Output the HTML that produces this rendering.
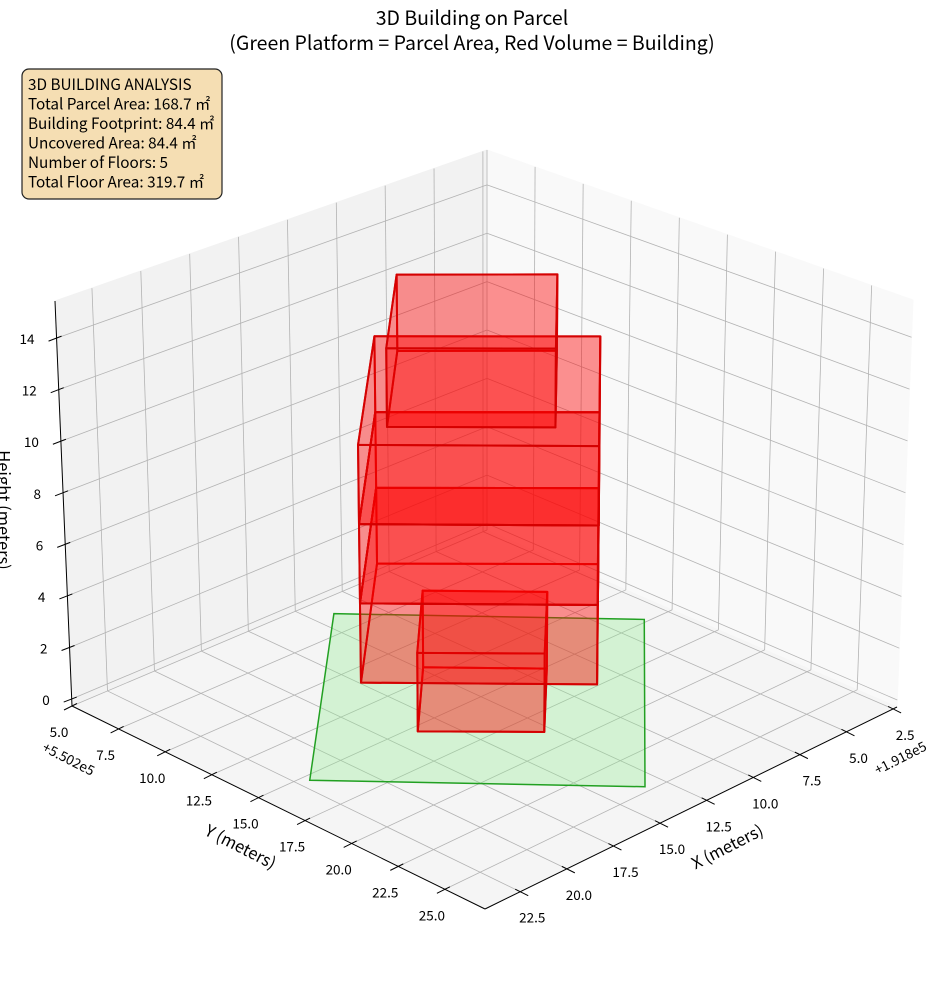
<!DOCTYPE html>
<html>
<head>
<meta charset="utf-8">
<style>
html,body{margin:0;padding:0;background:#fff;}
svg{display:block;}
text{font-family:"Noto Sans CJK JP","Liberation Sans",sans-serif;fill:#000;}
</style>
</head>
<body>
<svg id="chart" width="944" height="992" viewBox="0 0 944 992" xmlns="http://www.w3.org/2000/svg">
  <g id="panes"></g>
  <g id="grid"></g>
  <g id="axes"></g>
  <g id="parcel"></g>
  <g id="building"></g>
  <text x="472" y="25" font-size="19.5" text-anchor="middle">3D Building on Parcel</text>
  <text x="472" y="50" font-size="19.5" text-anchor="middle">(Green Platform = Parcel Area, Red Volume = Building)</text>
  <text x="240" y="848" font-size="16.5" text-anchor="middle" dominant-baseline="middle" transform="rotate(27 240 848)">Y (meters)</text>
  <text x="728" y="848" font-size="16.5" text-anchor="middle" dominant-baseline="middle" transform="rotate(-27 728 848)">X (meters)</text>
  <text x="-2" y="510" font-size="16.5" text-anchor="middle" transform="rotate(90 -2 510)">Height (meters)</text>
  <text x="68" y="760" font-size="13.5" text-anchor="middle" dominant-baseline="middle" transform="rotate(27 68 760)">+5.502e5</text>
  <text x="901" y="759" font-size="13.5" text-anchor="middle" dominant-baseline="middle" transform="rotate(-27 901 759)">+1.918e5</text>
  <g>
    <rect x="22" y="69" width="200" height="130" rx="7" ry="7" fill="#f5deb3" stroke="#222" stroke-width="1.2"/>
    <text x="28" y="90" font-size="15.3">3D BUILDING ANALYSIS</text>
    <text x="28" y="109.5" font-size="15.3">Total Parcel Area: 168.7 ㎡</text>
    <text x="28" y="129" font-size="15.3">Building Footprint: 84.4 ㎡</text>
    <text x="28" y="148.5" font-size="15.3">Uncovered Area: 84.4 ㎡</text>
    <text x="28" y="168" font-size="15.3">Number of Floors: 5</text>
    <text x="28" y="187.5" font-size="15.3">Total Floor Area: 319.7 ㎡</text>
  </g>
</svg>
<script>
// ---- data ----
const xLim = [2.29, 24.39];
const yLim = [5.0, 27.15];
const zLim = [-0.27, 15.44];
const xTicks = [2.5, 5.0, 7.5, 10.0, 12.5, 15.0, 17.5, 20.0, 22.5];
const yTicks = [5.0, 7.5, 10.0, 12.5, 15.0, 17.5, 20.0, 22.5, 25.0];
const zTicks = [0, 2, 4, 6, 8, 10, 12, 14];
const parcelX = [11.98, 4.0, 13.75, 22.39];
const parcelY = [6.56, 15.22, 25.08, 15.75];
const parcelZ = 0;
const floorBase = [0, 3, 6, 9, 12];
const floorHeight = [3, 3, 3, 3, 3];
const floorX = [
  [12.74, 9.5, 13.27, 16.63],
  [12.32, 6.47, 13.72, 19.91],
  [12.32, 6.47, 13.72, 19.91],
  [12.32, 6.47, 13.72, 19.91],
  [12.7, 8.54, 13.63, 17.98]
];
const floorY = [
  [12.13, 15.52, 19.18, 15.76],
  [9.27, 15.17, 22.43, 16.06],
  [9.27, 15.17, 22.43, 16.06],
  [9.27, 15.17, 22.43, 16.06],
  [10.85, 14.99, 20.04, 15.63]
];

// ---- projection (bilinear floor + perspective heights) ----
function norm(v, lim){ return (v - lim[0]) / (lim[1] - lim[0]); }
function proj(x, y, z){
  const a = norm(x, xLim), b = norm(y, yLim), c = norm(z, zLim);
  const px = 487 - 415*a + 410*b + 3*a*b;
  const py = 530 + 176*a + 177*b + 26*a*b;
  const H = 380*(1-a)*(1-b) + 405*a*(1-b) + 407*(1-a)*b + 436*a*b;
  const dx = -17*a*(1-b) + 16*(1-a)*b;
  return [px + c*dx, py - c*H];
}
function depth(x, y, z){
  const a = norm(x, xLim), b = norm(y, yLim), c = norm(z, zLim);
  return 0.866*0.707*(4*a + 4*b) + 0.5*3*c;
}
const NS = 'http://www.w3.org/2000/svg';
function mk(tag, attrs, parent){
  const e = document.createElementNS(NS, tag);
  for (const k in attrs) e.setAttribute(k, attrs[k]);
  parent.appendChild(e);
  return e;
}
function pts(list){ return list.map(p => p[0].toFixed(2) + ',' + p[1].toFixed(2)).join(' '); }

const panes = document.getElementById('panes');
const grid = document.getElementById('grid');
const axes = document.getElementById('axes');
const [x0, x1] = xLim, [y0, y1] = yLim, [z0, z1] = zLim;

let el;
el = mk('polygon', {points: pts([proj(x0,y0,z0), proj(x1,y0,z0), proj(x1,y0,z1), proj(x0,y0,z1)]), fill: '#f2f2f2', stroke: '#f2f2f2'}, panes);


el = mk('polygon', {points: pts([proj(x0,y0,z0), proj(x0,y1,z0), proj(x0,y1,z1), proj(x0,y0,z1)]), fill: '#f9f9f9', stroke: '#f9f9f9'}, panes);


el = mk('polygon', {points: pts([proj(x0,y0,z0), proj(x1,y0,z0), proj(x1,y1,z0), proj(x0,y1,z0)]), fill: '#f5f5f5', stroke: '#f5f5f5'}, panes);



function gl(p, q, name){
  const l = mk('line', {x1: p[0], y1: p[1], x2: q[0], y2: q[1], stroke: '#b3b3b3', 'stroke-width': 0.8}, grid);
  
  
}
xTicks.forEach(t => {
  gl(proj(t,y0,z0), proj(t,y1,z0), 'x-gridline-floor');
  gl(proj(t,y0,z0), proj(t,y0,z1), 'x-gridline-wall');
});
yTicks.forEach(t => {
  gl(proj(x1,t,z0), proj(x0,t,z0), 'y-gridline-floor');
  gl(proj(x0,t,z0), proj(x0,t,z1), 'y-gridline-wall');
});
zTicks.forEach(t => {
  gl(proj(x1,y0,t), proj(x0,y0,t), 'z-gridline-left-wall');
  gl(proj(x0,y0,t), proj(x0,y1,t), 'z-gridline-right-wall');
});

function axLine(p, q, name){
  const l = mk('line', {x1: p[0], y1: p[1], x2: q[0], y2: q[1], stroke: '#000', 'stroke-width': 1}, axes);
  
  
}
axLine(proj(x1,y0,z0), proj(x1,y0,z1), 'z-axis-line');
axLine(proj(x1,y0,z0), proj(x1,y1,z0), 'y-axis-line');
axLine(proj(x1,y1,z0), proj(x0,y1,z0), 'x-axis-line');

function tickLabel(x, y, txt, anchor, name){
  const t = mk('text', {x: x, y: y, 'font-size': 13.5, 'text-anchor': anchor}, axes);
  t.textContent = txt;
  
  
}
zTicks.forEach(t => {
  const p = proj(x1, y0, t);
  axLine([p[0]-8, p[1]+3], [p[0]+5, p[1]-2], 'z-tick');
  tickLabel(p[0]-22, p[1]+6, String(t), 'end', 'z-tick-label');
});
yTicks.forEach(t => {
  const p = proj(x1, t, z0);
  axLine([p[0]-8, p[1]+4], [p[0]+5, p[1]-2.5], 'y-tick');
  tickLabel(p[0]-13, p[1]+31, t.toFixed(1), 'middle', 'y-tick-label');
});
xTicks.forEach(t => {
  const p = proj(t, y1, z0);
  axLine([p[0]+8, p[1]+4], [p[0]-5, p[1]-2.5], 'x-tick');
  tickLabel(p[0]+12, p[1]+31, t.toFixed(1), 'middle', 'x-tick-label');
});

// parcel
const parcelG = document.getElementById('parcel');
const pp = parcelX.map((x, i) => proj(x, parcelY[i], parcelZ));
el = mk('polygon', {points: pts(pp), fill: 'rgb(144,238,144)', 'fill-opacity': 0.33, stroke: '#22a022', 'stroke-width': 1.5}, parcelG);



// building faces
const faces = [];
floorBase.forEach((zb, f) => {
  const zt = zb + floorHeight[f];
  const xs = floorX[f], ys = floorY[f];
  const bot = xs.map((x, i) => [x, ys[i], zb]);
  const top = xs.map((x, i) => [x, ys[i], zt]);
  faces.push({v: bot, floor: f, kind: 'bottom'});
  faces.push({v: top, floor: f, kind: 'top'});
  for (let i = 0; i < 4; i++){
    const j = (i + 1) % 4;
    faces.push({v: [bot[i], bot[j], top[j], top[i]], floor: f, kind: 'side'});
  }
});
faces.forEach(F => { F.d = F.v.reduce((s, p) => s + depth(p[0], p[1], p[2]), 0) / F.v.length; });
faces.sort((A, B) => A.d - B.d);
const bg = document.getElementById('building');
faces.forEach(F => {
  const p = mk('polygon', {points: pts(F.v.map(q => proj(q[0], q[1], q[2]))), fill: '#ff0000', 'fill-opacity': 0.24, stroke: '#d40000', 'stroke-opacity': 0.9, 'stroke-width': 2, 'stroke-linejoin': 'round'}, bg);
  
  
});
</script>
</body>
</html>
